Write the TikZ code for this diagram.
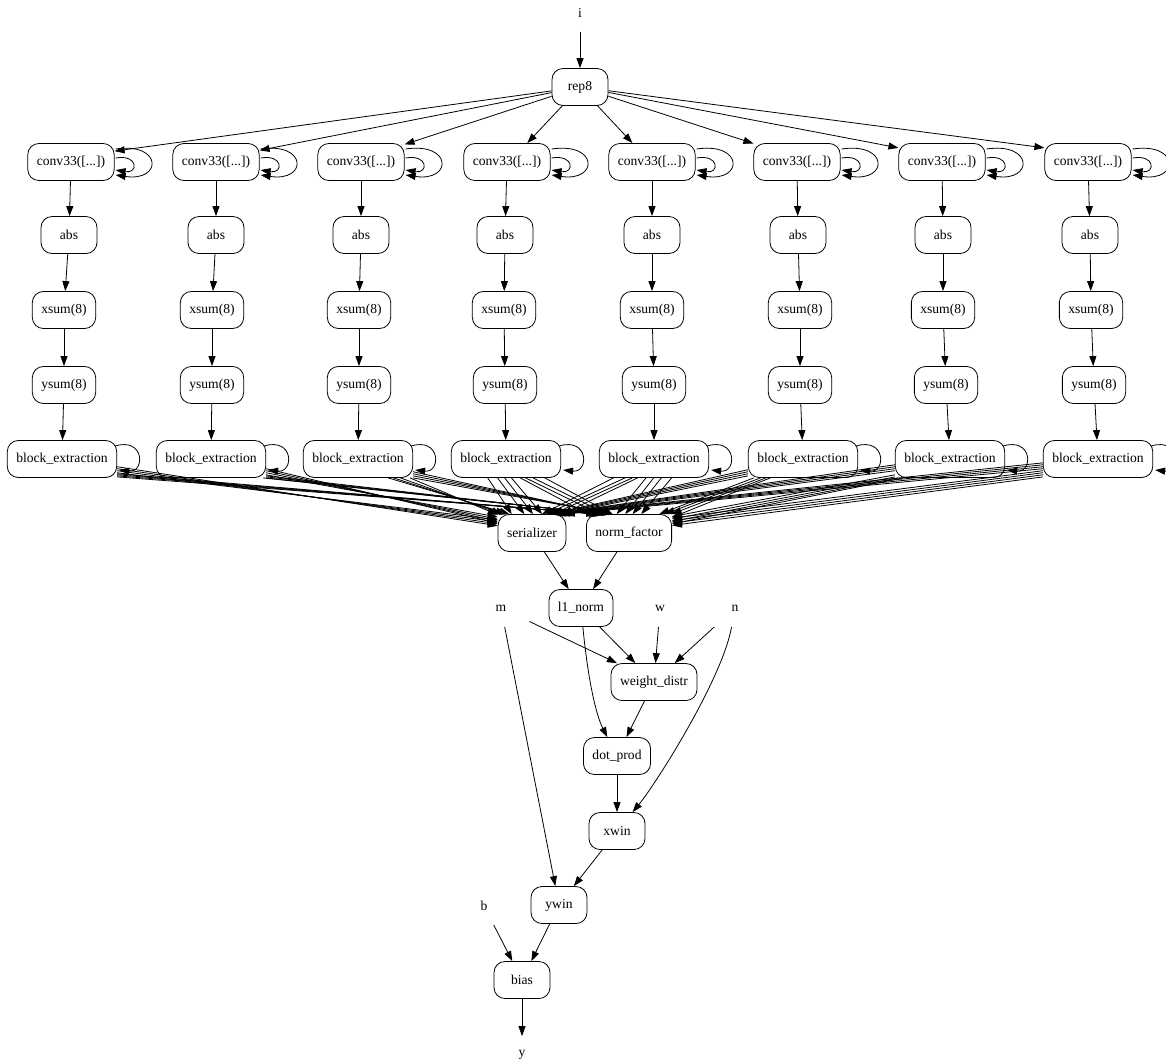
\documentclass[tikz,border=0pt]{standalone}
\usepackage{fontspec}
\setmainfont{Liberation Serif}
\usetikzlibrary{calc,arrows.meta}

\begin{document}
\begin{tikzpicture}[x=1pt,y=-1pt,line width=0.8pt,
  >={Triangle[length=10pt,width=7pt]},
  op/.style={draw,rounded corners=11pt,minimum width=56pt,minimum height=37pt,
    inner xsep=9pt,font=\fontsize{13.6}{16}\selectfont},
  io/.style={minimum width=56pt,minimum height=37pt,font=\fontsize{13.6}{16}\selectfont}]
  \useasboundingbox (0,0) rectangle (1166,1061);
  \clip (0,0) rectangle (1166,1061);

  \node[io] (i) at (580,13) {i};
  \node[op] (rep) at (580,87) {rep8};
  \draw[->] (i) -- (rep);

  % eight branches
  \foreach \k/\xc/\xa/\xs/\xy/\xb/\ang in {1/71/69/64/64/62/14, 2/216/216/212/212/211/15,
      3/361/361/359/359/358/22, 4/507/505/504/505/506/43, 5/652/652/652/654/654/136,
      6/797/798/800/800/803/157, 7/942/943/943/946/950/162, 8/1088/1090/1091/1094/1098/162} {
    \node[op] (c\k) at (\xc,162) {conv33([...])};
    \node[op] (a\k) at (\xa,235) {abs};
    \node[op] (xs\k) at (\xs,310) {xsum(8)};
    \node[op] (ys\k) at (\xy,385) {ysum(8)};
    \node[op] (be\k) at (\xb,459) {block\_extraction};
    \draw[->] (rep) -- (c\k.\ang);
    \draw[->] (c\k) -- (a\k);
    \draw[->] (a\k) -- (xs\k);
    \draw[->] (xs\k) -- (ys\k);
    \draw[->] (ys\k) -- (be\k);
    \draw[->] ($(c\k.east)+(1,-13)$) .. controls ($(c\k.east)+(48,-20)$) and ($(c\k.east)+(48,20)$) .. ($(c\k.east)+(1,13)$);
    \draw[->] ($(c\k.east)+(1,-4)$) .. controls ($(c\k.east)+(24,-8)$) and ($(c\k.east)+(24,12)$) .. ($(c\k.east)+(1,8)$);
    \draw[->] ($(be\k.east)+(-2,-13)$) .. controls ($(be\k.east)+(28,-22)$) and ($(be\k.east)+(28,14)$) .. ($(be\k.east)+(2,11)$);
  }

  \node[op] (ser) at (532,533) {serializer};
  \node[op] (nf) at (629,533) {norm\_factor};

  % fan into serializer and norm_factor
  \foreach \k/\sA/\sB/\eA/\eB/\nA/\nB/\fA/\fB in {1/-8/-2/168/-3/-15/-1/150/-2,
      2/-10/-2/164/-3/-17/-1/147/-2, 3/-20/-4/152/-4/-13/-2/140/-3,
      4/-134/20/137/-25/-53/9/155/-8, 5/-155/8/62/-10/-113/22/123/-22,
      6/-163/-2/34/4/-150/-3/20/4, 7/-168/-2/32/4/-158/-2/12/3,
      8/-170/-2/30/4/-162/-2/10/3} {
    \foreach \j in {0,1,2,3} {
      \pgfmathtruncatemacro\angS{\sA+\j*\sB}
      \pgfmathtruncatemacro\angE{\eA+\j*\eB}
      \draw[->] (be\k.\angS) -- (ser.\angE);
      \pgfmathtruncatemacro\angS{\nA+\j*\nB}
      \pgfmathtruncatemacro\angE{\fA+\j*\fB}
      \draw[->] (be\k.\angS) -- (nf.\angE);
    }
  }

  \node[op] (l1) at (581,608) {l1\_norm};
  \node[io] (m) at (501,608) {m};
  \node[io] (w) at (660,608) {w};
  \node[io] (n) at (735,608) {n};
  \node[op] (wd) at (654,682) {weight\_distr};
  \node[op] (dot) at (617,756) {dot\_prod};
  \node[op] (xw) at (617,831) {xwin};
  \node[op] (yw) at (559,905) {ywin};
  \node[io] (b) at (484,906) {b};
  \node[op] (bias) at (522,980) {bias};
  \node[io] (y) at (522,1055) {y};

  \draw[->] (ser) -- (l1);
  \draw[->] (nf) -- (l1);
  \draw[->] (l1) -- (wd);
  \draw[->] (m) -- (wd.153);
  \draw[->] (w) -- (wd);
  \draw[->] (n) -- (wd);
  \draw[->] (l1) .. controls (588,680) and (596,715) .. (dot);
  \draw[->] (wd) -- (dot);
  \draw[->] (m) -- (yw);
  \draw[->] (n) .. controls (722,680) and (655,785) .. (xw);
  \draw[->] (dot) -- (xw);
  \draw[->] (xw) -- (yw);
  \draw[->] (yw) -- (bias);
  \draw[->] (b) -- (bias);
  \draw[->] (bias) -- (y);
\end{tikzpicture}
\end{document}
